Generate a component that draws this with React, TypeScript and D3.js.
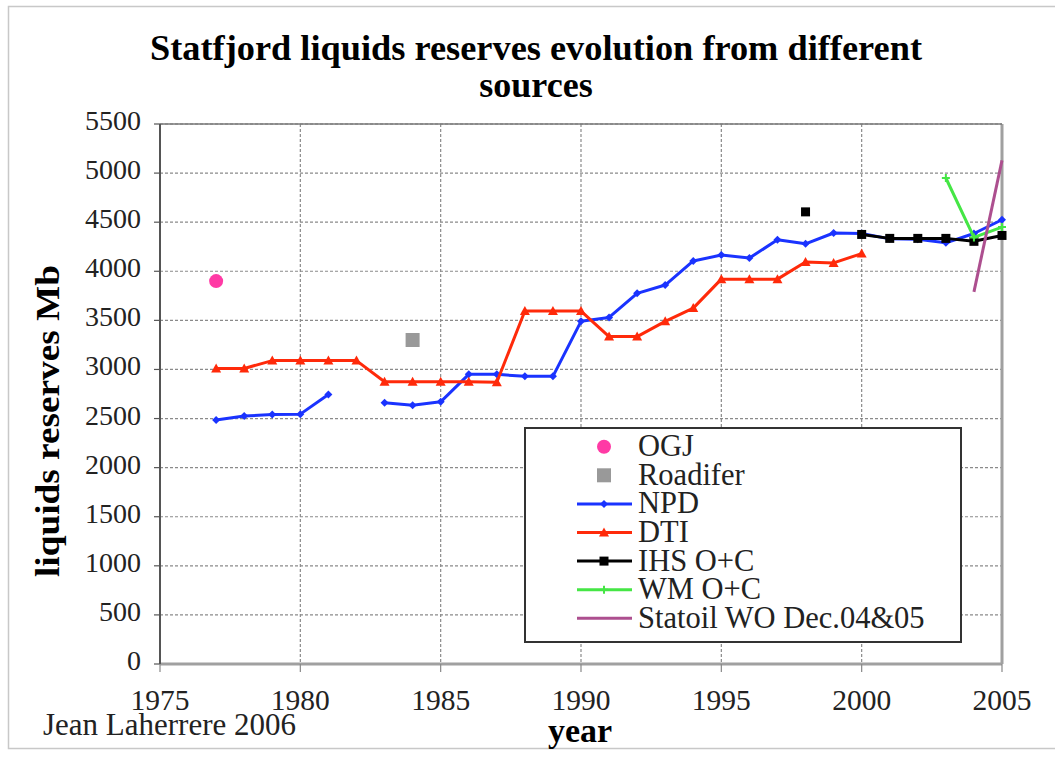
import React from "react";
import * as d3 from "d3";

const TITLE_LINES = ["Statfjord liquids reserves evolution from different", "sources"];
const X_TICKS = [1975, 1980, 1985, 1990, 1995, 2000, 2005];
const Y_TICKS = [0, 500, 1000, 1500, 2000, 2500, 3000, 3500, 4000, 4500, 5000, 5500];

const NPD_YEARS = [1977, 1978, 1979, 1980, 1981, 1982, 1983, 1984, 1985, 1986, 1987, 1988, 1989, 1990, 1991, 1992, 1993, 1994, 1995, 1996, 1997, 1998, 1999, 2000, 2001, 2002, 2003, 2004, 2005];
const NPD_VALUES = [2485, 2525, 2540, 2545, 2745, null, 2660, 2635, 2670, 2950, 2950, 2930, 2930, 3490, 3530, 3775, 3860, 4105, 4165, 4135, 4320, 4280, 4390, 4385, 4330, 4325, 4290, 4385, 4525];

const DTI_YEARS = [1977, 1978, 1979, 1980, 1981, 1982, 1983, 1984, 1985, 1986, 1987, 1988, 1989, 1990, 1991, 1992, 1993, 1994, 1995, 1996, 1997, 1998, 1999, 2000];
const DTI_VALUES = [3010, 3010, 3090, 3090, 3090, 3090, 2875, 2875, 2875, 2875, 2870, 3595, 3595, 3595, 3335, 3335, 3490, 3625, 3920, 3920, 3920, 4095, 4085, 4180];

const IHS_YEARS = [1998, 1999, 2000, 2001, 2002, 2003, 2004, 2005];
const IHS_VALUES = [4605, null, 4375, 4335, 4335, 4335, 4305, 4365];

const WM_YEARS = [2003, 2004, 2005];
const WM_VALUES = [4950, 4345, 4450];

const STATOIL_YEARS = [2004, 2005];
const STATOIL_VALUES = [3790, 5130];

const OGJ_YEARS = [1977];
const OGJ_VALUES = [3900];

const ROADIFER_YEARS = [1984];
const ROADIFER_VALUES = [3300];

const LEGEND_LABELS = ["OGJ", "Roadifer", "NPD", "DTI", "IHS O+C", "WM O+C", "Statoil WO Dec.04&05"];

const C_BLUE = "#1a33ff";
const C_RED = "#ff2a0a";
const C_BLACK = "#000000";
const C_GREEN = "#45e645";
const C_PURPLE = "#ad4f8f";
const C_PINK = "#ff3aa5";
const C_GRAY = "#999999";

const FONT = "Liberation Serif, Times New Roman, Times, serif";

type Pt = { x: number; y: number | null };

function zip(xs: number[], ys: (number | null)[]): Pt[] {
  return xs.map((x, i) => ({ x, y: ys[i] }));
}

export default function App() {
  const W = 1055;
  const H = 757;
  const x = d3.scaleLinear().domain([1975, 2005]).range([160, 1002]);
  const y = d3.scaleLinear().domain([0, 5500]).range([664, 124]);

  const line = d3
    .line<Pt>()
    .defined((d) => d.y !== null)
    .x((d) => x(d.x))
    .y((d) => y(d.y as number));

  const npd = zip(NPD_YEARS, NPD_VALUES);
  const dti = zip(DTI_YEARS, DTI_VALUES);
  const ihs = zip(IHS_YEARS, IHS_VALUES);
  const wm = zip(WM_YEARS, WM_VALUES);
  const st = zip(STATOIL_YEARS, STATOIL_VALUES);
  const ogj = zip(OGJ_YEARS, OGJ_VALUES);
  const rd = zip(ROADIFER_YEARS, ROADIFER_VALUES);

  const diamond = (cx: number, cy: number, s: number, c: string, k: string) => (
    <path key={k} d={`M${cx},${cy - s}L${cx + s},${cy}L${cx},${cy + s}L${cx - s},${cy}Z`} fill={c} />
  );
  const tri = (cx: number, cy: number, s: number, c: string, k: string) => (
    <path key={k} d={`M${cx},${cy - s}L${cx + s},${cy + s * 0.8}L${cx - s},${cy + s * 0.8}Z`} fill={c} />
  );
  const sq = (cx: number, cy: number, s: number, c: string, k: string) => (
    <rect key={k} x={cx - s} y={cy - s} width={2 * s} height={2 * s} fill={c} />
  );
  const star = (cx: number, cy: number, s: number, c: string, k: string) => (
    <path key={k} d={`M${cx - s},${cy}L${cx + s},${cy}M${cx},${cy - s}L${cx},${cy + s}`} stroke={c} strokeWidth={2} />
  );

  const defined = (arr: Pt[]) => arr.filter((d) => d.y !== null);

  const legendTop = 446.7;
  const legendStep = 28.6;

  return (
    <div style={{ position: "absolute", left: 0, top: 0, width: W, height: H, background: "#fff" }}>
      <svg width={W} height={H} style={{ display: "block", fontFamily: FONT }}>
        <rect x={0} y={0} width={W} height={H} fill="#fff" />
        <rect x={8.5} y={6.5} width={W} height={742} fill="none" stroke="#c8c8c8" strokeWidth={1.5} />

        {/* title */}
        <text x={536} y={60} textAnchor="middle" style={{ fontFamily: FONT }} fontWeight="bold" fontSize={36} textLength={772} lengthAdjust="spacingAndGlyphs">
          {TITLE_LINES[0]}
        </text>
        <text x={536} y={97} textAnchor="middle" style={{ fontFamily: FONT }} fontWeight="bold" fontSize={36}>
          {TITLE_LINES[1]}
        </text>

        {/* grid */}
        {Y_TICKS.filter((v) => v > 0).map((v) => (
          <line key={"gy" + v} x1={x(1975)} x2={x(2005)} y1={y(v)} y2={y(v)} stroke="#8a8a8a" strokeWidth={1.2} strokeDasharray="3,2" />
        ))}
        {X_TICKS.filter((v) => v > 1975 && v < 2005).map((v) => (
          <line key={"gx" + v} x1={x(v)} x2={x(v)} y1={y(5500)} y2={y(0)} stroke="#8a8a8a" strokeWidth={1.2} strokeDasharray="3,2" />
        ))}
        {/* frame */}
        <line x1={x(2005)} x2={x(2005)} y1={y(5500)} y2={y(0)} stroke="#a0a0a0" strokeWidth={3} />
        <line x1={x(1975)} x2={x(2005)} y1={y(0)} y2={y(0)} stroke="#a0a0a0" strokeWidth={3} />
        <line x1={x(1975)} x2={x(2005)} y1={y(5500)} y2={y(5500)} stroke="#777" strokeWidth={1.5} />
        <line x1={x(1975)} x2={x(1975)} y1={y(5500)} y2={y(0)} stroke="#555" strokeWidth={2} />
        {Y_TICKS.map((v) => (
          <line key={"ty" + v} x1={x(1975) - 6} x2={x(1975)} y1={y(v)} y2={y(v)} stroke="#555" strokeWidth={1.2} />
        ))}
        {X_TICKS.map((v) => (
          <line key={"tx" + v} x1={x(v)} x2={x(v)} y1={y(0)} y2={y(0) + 8} stroke="#888" strokeWidth={1.2} />
        ))}

        {/* tick labels */}
        {Y_TICKS.map((v) => (
          <text key={"ly" + v} x={141} y={y(v) + 6} textAnchor="end" style={{ fontFamily: FONT }} fontSize={28} fill="#222">
            {v}
          </text>
        ))}
        {X_TICKS.map((v) => (
          <text key={"lx" + v} x={x(v)} y={710} textAnchor="middle" style={{ fontFamily: FONT }} fontSize={29.5} fill="#222">
            {v}
          </text>
        ))}

        {/* axis titles */}
        <text transform="translate(59,421) rotate(-90)" textAnchor="middle" style={{ fontFamily: FONT }} fontWeight="bold" fontSize={34} textLength={312} lengthAdjust="spacingAndGlyphs">
          liquids reserves Mb
        </text>
        <text x={580} y={742} textAnchor="middle" style={{ fontFamily: FONT }} fontWeight="bold" fontSize={34}>
          year
        </text>
        <text x={43} y={735} style={{ fontFamily: FONT }} fontSize={31} fill="#222">
          Jean Laherrere 2006
        </text>

        {/* series */}
        <path d={line(npd) || ""} fill="none" stroke={C_BLUE} strokeWidth={3} strokeLinejoin="round" />
        {defined(npd).map((d, i) => diamond(x(d.x), y(d.y as number), 4, C_BLUE, "n" + i))}

        <path d={line(dti) || ""} fill="none" stroke={C_RED} strokeWidth={3} strokeLinejoin="round" />
        {defined(dti).map((d, i) => tri(x(d.x), y(d.y as number), 5, C_RED, "d" + i))}

        <path d={line(ihs) || ""} fill="none" stroke={C_BLACK} strokeWidth={3} strokeLinejoin="round" />
        {defined(ihs).map((d, i) => sq(x(d.x), y(d.y as number), 4.5, C_BLACK, "i" + i))}

        <path d={line(wm) || ""} fill="none" stroke={C_GREEN} strokeWidth={3} strokeLinejoin="round" />
        {defined(wm).map((d, i) => star(x(d.x), y(d.y as number), 4, C_GREEN, "w" + i))}

        <path d={line(st) || ""} fill="none" stroke={C_PURPLE} strokeWidth={3} strokeLinejoin="round" />

        {ogj.map((d, i) => (
          <circle key={"o" + i} cx={x(d.x)} cy={y(d.y as number)} r={7} fill={C_PINK} />
        ))}
        {rd.map((d, i) => sq(x(d.x), y(d.y as number), 7, C_GRAY, "r" + i))}

        {/* legend */}
        <rect x={525} y={428} width={436} height={214} fill="#fff" stroke="#333" strokeWidth={2} />
        {LEGEND_LABELS.map((lab, i) => {
          const cy = legendTop + i * legendStep;
          const mx = 604;
          let marker: React.ReactNode = null;
          if (i === 0) marker = <circle cx={mx} cy={cy} r={7} fill={C_PINK} />;
          else if (i === 1) marker = sq(mx, cy, 7, C_GRAY, "lr");
          else {
            const col = [C_BLUE, C_RED, C_BLACK, C_GREEN, C_PURPLE][i - 2];
            marker = (
              <g>
                <line x1={577} x2={632} y1={cy} y2={cy} stroke={col} strokeWidth={3} />
                {i === 2 && diamond(mx, cy, 4, col, "ld")}
                {i === 3 && tri(mx, cy, 5, col, "lt")}
                {i === 4 && sq(mx, cy, 4.5, col, "ls")}
                {i === 5 && star(mx, cy, 4, col, "lw")}
              </g>
            );
          }
          return (
            <g key={lab}>
              {marker}
              <text x={638} y={cy + 9.5} style={{ fontFamily: FONT }} fontSize={30.5} fill="#222">
                {lab}
              </text>
            </g>
          );
        })}
      </svg>
    </div>
  );
}
